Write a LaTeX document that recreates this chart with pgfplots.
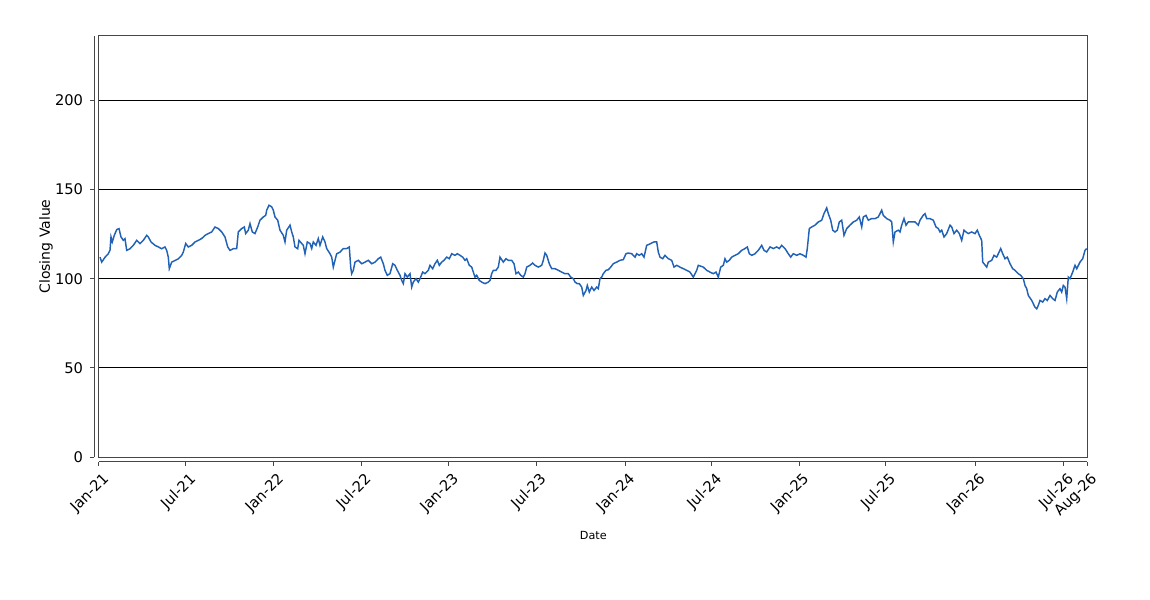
\documentclass[border=0pt]{standalone}
\usepackage{fontspec}
\setmainfont{DejaVu Sans}
\usepackage{pgfplots}
\pgfplotsset{compat=1.18}
\usepackage{pgfplotstable}
\definecolor{linecol}{RGB}{34,98,182}
\definecolor{axgray}{RGB}{70,70,70}

\pgfplotstableread{
x y
1 112.1
2.7 109.3
6 112
9.3 114
11 115.9
12 123.4
13.3 120.6
15.3 124.3
17.7 127.5
20 128.1
22 123.4
24.3 121.5
26 122.4
27.7 115.9
31 116.8
34.3 118.7
37.7 121.5
41 119.7
44.3 121.5
47.7 124.3
49.3 123.4
52 120.6
56 118.7
59.3 117.8
62.7 116.8
66 117.8
67.7 115.9
69.3 112.1
70.3 105.6
72.7 109.3
76 110.2
79.3 111.1
82.7 113.1
84.3 114.9
86.7 119.7
89.3 117.8
92.7 118.7
96 120.6
99.3 121.5
102.7 122.5
106 124.3
109.3 125.3
112.7 126.2
116 129
119.3 128.1
122.7 126.2
126 123.4
128.7 117.8
131 115.9
134.3 116.8
137.7 116.8
139.3 126.2
142.7 128.1
145.3 129
146.7 125.3
149.3 127.2
151 130.9
153.3 126.2
156 125.3
158.7 129
161 132.8
164.3 134.6
166.7 135.5
167.7 138.4
170 141.2
172.7 140.3
174.3 138.4
176 134.6
178.7 132.8
181 127.2
184.3 124.3
186 120.6
187.7 127.2
191 130
192.7 126.2
194.3 123.4
196 117.8
198.7 116.8
200 121.5
204.3 118.7
206 114
208.3 120.6
211 119.7
212.7 116.9
214.3 120.6
217 118.7
219.3 122.5
221 118.7
223.7 123.4
226 120.6
227.7 116.9
231 114
232.7 112.1
234.3 106.5
236 110.3
237.7 114
241 114.9
244.3 116.9
247.7 116.9
250.3 117.8
251.7 106.5
252.7 102.8
254.3 104.7
256 109.3
259.3 110.3
262.7 108.4
266 109.3
269.3 110.3
272.7 108.4
276 109.3
279.3 111.2
281.7 112.1
284.3 108.4
286 104.7
288.3 101.9
291 102.8
293.7 108.4
296 107.5
298.3 104.7
301 101.9
302.7 99
304.3 97.2
306 102.8
308.3 100.9
311 102.8
312.7 95.3
314.3 98.1
317 100
319.3 98.1
321 100
323.7 103.7
326 102.8
329.3 104.7
331 107.5
333.7 105.6
336 108.4
338.3 110.3
340.3 107.5
342.7 109.3
345 110.3
347.7 112.1
350.3 111.2
352.7 114
356 113.1
358.3 114
361 113.1
363.7 112.1
366 110.3
367.7 111.2
370.3 107.5
372.7 106.5
374.3 103.7
376 100.9
377.7 101.9
380.3 99
382.7 98.1
386 97.2
389.3 98.1
391 99
392.7 102.8
394.3 104.7
397 104.7
399.3 106.5
401 112.1
404.3 109.3
407 111.2
409.3 110.3
412.7 110.3
415 108.4
417 102.8
419.3 103.7
421.7 101.9
424.3 100.9
426 102.8
427.7 106.5
431 107.5
433.7 108.8
436 107.5
439.3 106.5
442.7 107.5
444.3 110.3
446 114.4
447.7 113.1
450.3 108.4
452.7 105.6
456 105.6
459.3 104.7
462.7 103.7
466 102.8
469.3 102.8
471.7 100.9
474.3 100
476 98.1
478.3 97.2
480.3 97.2
482.7 95.3
484.3 90.6
487 93.4
488.3 96.2
490.3 92.5
492.7 95.3
495 93.4
497.7 95.3
499.3 94.4
501 100
502.7 100.9
504.3 102.8
507 104.7
509.3 105
511.7 106.5
514.3 108.4
517.7 109.3
521 110.3
524.3 110.7
527 114
529.3 114.4
532.7 114
536 112.1
537.7 114
540.3 113.1
542.7 114
545 112.1
547.7 118.7
550.3 119.3
552.7 120
555 120.6
557.7 120.6
559.3 114.9
561 112.1
563.7 111.2
566 113.1
569.3 111.2
572.7 110.3
575 106.5
577.7 107.5
581 106.5
584.3 105.6
587.7 104.7
591 103.7
594.3 100.9
597.7 104.7
599.3 107.5
604.3 106.5
607.7 104.7
611 103.7
614.3 102.8
617 103.7
619.3 100.9
621.7 106.5
624.3 107.5
626 111.2
627.7 109.3
630.3 110.3
632.7 112.1
636 113.1
639.3 114
642.7 115.9
646 116.9
648.3 117.8
650.3 114
652.7 113.1
656 114
659.3 115.9
662.7 118.7
665 115.9
667.7 115
671 117.8
674.3 116.9
677.7 117.8
680.3 116.9
682.7 118.7
686 116.9
689.3 114
691.7 112.1
694.3 114
697.7 113.1
701 114
704.3 113.1
707 112.1
708.3 116.9
710.3 128.1
712.7 129
716 130
719.3 131.8
722.7 132.8
725 136.5
727.7 139.7
729.3 136.5
731.7 132.8
733.7 127.2
736 126.2
738.3 127.2
740.3 131.8
742.7 132.8
745 124.3
747.7 128.1
751 130
754.3 131.8
757.7 132.8
760.3 134.6
762.7 129
764.3 134.6
767 135.5
769.3 132.8
772.7 133.7
776 133.7
779.3 134.6
782.7 138.4
784.3 135.5
787.7 133.7
791 132.8
792.7 131.8
794.3 120.6
796 126.2
799.3 127.2
801 126.2
802.7 130
805 133.7
807 130
809.3 131.8
812.7 131.8
816 131.8
819.3 130
821 132.8
824.3 135.6
826 136.5
827.7 133.7
831 133.7
834.3 132.8
837 129
839.3 128.1
841 126.2
842.7 127.2
845 123.4
847.7 125.3
851 130
852.7 129
855 125.3
857.7 127.2
860.3 125.3
862.7 121.5
865 127.2
867 126.2
869.3 125.3
872.7 126.2
876 125.3
878.3 127.2
880.3 124.3
882.7 121.5
883.7 109.3
885 108.4
887.7 106.5
889.3 109.3
892.7 110.3
895 113.1
897.7 112.1
899.3 114
901.7 116.9
903.7 114
906 111.2
908.3 112.1
911 108.4
913.7 105.6
916 104.7
919.3 102.8
921.7 101.9
924.3 100
926 96.2
927.7 94.4
929.3 90.6
932.7 87.8
936 84
937.7 83.1
939.3 85
941 87.8
943.7 86.9
946 88.8
948.3 87.8
951 90.6
953.7 88.8
956 87.8
958.3 92.5
961 94.4
962.7 92.5
964.3 96.2
966 95.3
967.7 88.8
969.3 100.9
971 100
973.7 103.7
976 107.5
977.7 105.6
981 109.3
983.7 111.2
986 115.9
987.7 116.9
}\closing

\begin{document}
\begin{tikzpicture}
\useasboundingbox (-74.25pt,-107.25pt) rectangle (788.25pt,342.75pt);
\begin{axis}[
  at={(0,0)}, anchor=south west, scale only axis,
  width=741pt, height=315.75pt,
  xmin=0, xmax=988, ymin=0, ymax=236.1,
  axis line style={axgray, line width=0.75pt},
  ymajorgrids, major grid style={black, line width=0.75pt},
  ytick={0,50,100,150,200},
  xtick={0,86.9,174.9,262.2,349.8,437.1,526,612.9,700.2,786.7,876.3,964.7,988},
  xticklabels={Jan-21,Jul-21,Jan-22,Jul-22,Jan-23,Jul-23,Jan-24,Jul-24,Jan-25,Jul-25,Jan-26,Jul-26,Aug-26},
  tick pos=left, tick align=outside, major tick length=3pt,
  xtick style={yshift=-3.5pt, axgray, line width=0.75pt},
  ytick style={xshift=-3.5pt, axgray, line width=0.75pt},
  /pgf/number format/assume math mode=true,
  every tick label/.append style={font=\fontsize{11}{13}\selectfont},
  yticklabel style={anchor=east, inner sep=0pt, xshift=-8.8pt},
  xticklabel style={xshift=2pt, yshift=-8pt, rotate=45, anchor=north east, inner sep=0pt},
  every axis y label/.style={at={(axis description cs:-0.0536,0.5)}, rotate=90, anchor=center, font=\fontsize{10.5}{12}\selectfont},
  every axis x label/.style={at={(axis description cs:0.5003,-0.1876)}, anchor=center, font=\fontsize{8.4}{10}\selectfont},
  xlabel={Date}, ylabel={Closing Value},
]
\addplot[linecol, line width=1.1pt] table[x=x,y=y]{\closing};
\end{axis}
\draw[axgray, line width=0.75pt] (0,-3.5pt) -- (741pt,-3.5pt);
\draw[axgray, line width=0.75pt] (-3.5pt,0) -- (-3.5pt,315.75pt);
\end{tikzpicture}
\end{document}
